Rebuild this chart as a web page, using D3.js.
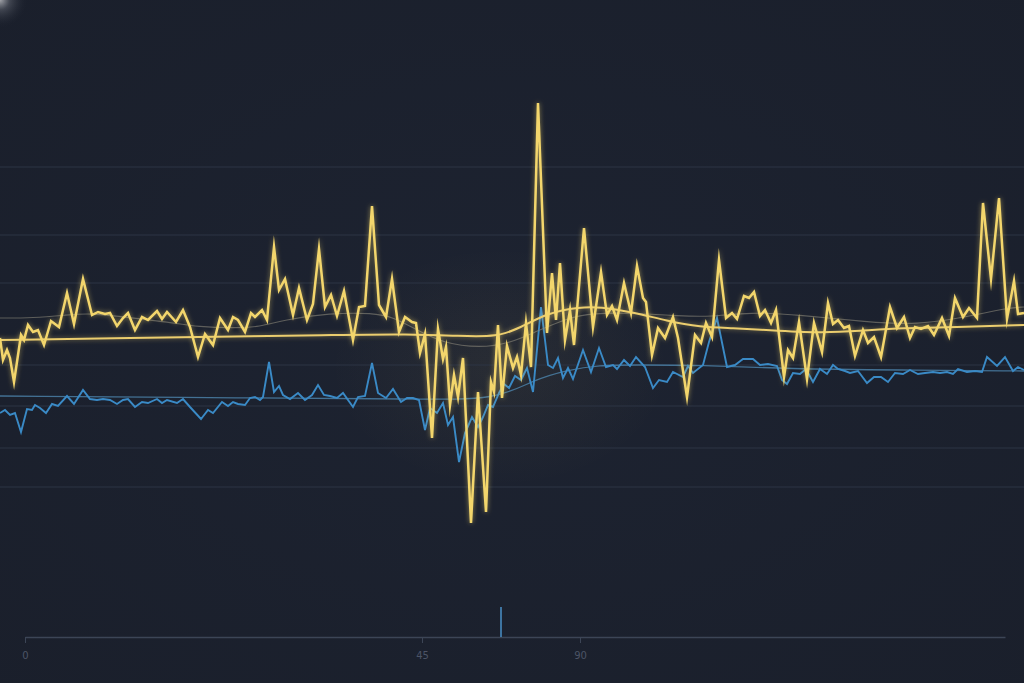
<!DOCTYPE html>
<html><head><meta charset="utf-8">
<script src="https://cdn.jsdelivr.net/npm/d3@7"></script>
<style>html,body{margin:0;padding:0;background:#1b212e;overflow:hidden}svg{display:block}</style>
</head><body>
<script>
// ---- data ----
const yellowT = [0,0.3,0.7,1.0,1.4,2.1,2.4,2.8,3.3,3.8,4.4,5.1,5.9,6.7,7.4,8.3,9.2,9.8,10.5,11.0,11.7,12.3,12.8,13.5,14.2,14.8,15.7,16.2,16.7,17.6,18.3,19.0,19.8,20.5,21.3,22.0,22.8,23.3,23.8,24.5,25.1,25.5,26.2,26.7,27.4,27.9,28.5,29.3,29.9,30.7,31.3,31.9,32.5,33.1,33.7,34.4,35.3,35.9,36.5,37.2,37.9,38.6,39.2,39.9,40.5,41.2,41.6,42.0,42.5,43.2,43.8,44.3,44.6,45.0,45.4,45.8,46.3,47.1,47.8,48.6,49.1,49.4,49.8,50.2,50.7,51.3,51.7,52.1,52.6,53.1,53.8,54.7,55.2,55.6,56.0,56.5,57.0,57.4,58.4,59.3,60.1,60.7,61.2,61.7,62.4,63.1,63.7,64.3,64.6,65.2,65.8,66.5,67.3,67.8,68.7,69.5,70.1,70.6,71.2,71.9,72.6,73.2,73.7,74.4,74.9,75.4,76.0,76.5,77.1,77.6,78.4,78.8,79.3,79.9,80.7,81.4,82.2,82.8,83.3,83.8,84.4,84.9,85.5,86.3,86.8,87.4,88.1,89.0,89.7,90.4,91.0,91.5,92.1,92.8,93.4,94.2,94.9,95.5,96.3,96.9,97.7,98.3,99.1,99.9,100.7,101.4,101.8,102.4];
const yellowV = [29.9,27.7,28.7,27.9,25.5,30.2,29.7,31.2,30.5,30.7,29.2,31.6,31.0,34.4,31.3,35.8,32.2,32.5,32.3,32.4,31.1,31.9,32.4,30.7,32.0,31.7,32.6,31.8,32.5,31.5,32.7,31.0,28.0,30.3,29.2,31.9,30.7,32.0,31.7,30.5,32.4,32.0,32.7,31.7,39.0,34.7,35.8,32.2,34.9,31.7,33.3,38.8,33.0,34.2,32.1,34.6,29.7,33.0,33.1,43.1,33.2,32.0,35.8,30.5,32.0,31.5,31.4,28.4,30.3,19.9,30.8,27.8,29.0,23.2,26.2,24.0,27.9,11.4,24.5,12.5,25.5,24.5,31.2,23.9,29.1,26.9,28.0,26.2,31.4,27.0,53.4,30.4,36.4,31.7,37.4,29.7,32.7,29.2,40.9,31.0,36.5,32.2,33.1,31.7,35.4,32.4,37.1,33.9,33.5,28.2,30.9,29.9,32.0,29.9,24.0,30.2,29.4,31.4,30.0,37.7,31.9,32.4,31.8,34.1,33.9,34.5,32.1,32.7,31.4,32.7,26.0,28.7,27.9,31.5,25.8,31.4,28.5,33.4,31.3,31.7,30.9,31.1,28.1,30.7,29.4,30.0,28.0,33.0,30.9,32.0,29.9,31.0,30.8,31.1,30.2,31.9,30.1,33.9,32.0,32.9,31.9,43.4,35.8,43.9,31.8,35.6,32.3,32.4];

const yellowAvgT = [0,13.0,26.0,33.0,41.0,46.0,49.7,52.0,54.7,58.0,60.0,63.3,66.7,70.0,73.3,76.7,82.0,86.0,90.0,96.7,102.4];
const yellowAvgV = [29.7,29.9,30.1,30.2,30.3,30.1,30.0,30.9,32.4,33.0,33.0,32.5,31.6,31.0,30.9,30.7,30.4,30.6,30.9,31.0,31.2];

const greyAvgT = [0,3.3,6.7,9.0,13.3,16.7,20.0,23.3,26.0,28.3,33.0,37.3,39.3,41.7,44.3,48.0,51.0,53.3,56.7,59.3,63.3,68.0,71.0,75.0,80.0,86.7,91.7,96.7,100.7,102.4];
const greyAvgV = [31.9,31.9,32.2,32.4,31.9,31.5,31.0,30.9,31.0,31.7,32.4,32.4,32.0,30.7,29.4,28.9,29.4,30.4,31.9,32.4,32.4,32.1,32.0,32.5,32.2,31.5,31.2,32.0,32.9,33.0];

const blueT = [0,0.5,1.0,1.5,2.1,2.7,3.2,3.5,4.0,4.6,5.2,5.8,6.7,7.4,8.3,9.0,9.7,10.3,11.0,11.7,12.3,12.8,13.5,14.2,14.8,15.7,16.2,16.7,17.7,18.3,19.0,20.1,20.8,21.3,22.2,22.8,23.3,23.8,24.5,25.0,25.5,26.0,26.3,26.9,27.4,27.9,28.3,29.0,29.8,30.5,31.2,31.8,32.4,33.0,33.7,34.3,35.3,35.8,36.5,37.2,37.8,38.6,39.3,40.1,40.7,41.3,41.9,42.5,43.0,43.7,44.3,44.8,45.3,45.9,46.5,47.2,47.8,48.3,48.8,49.3,49.9,50.4,50.9,51.5,52.1,52.7,53.3,54.1,54.8,55.3,55.8,56.3,56.8,57.3,58.3,59.1,59.9,60.6,61.3,61.7,62.4,63.0,63.6,64.5,65.3,65.9,66.7,67.3,68.3,68.8,69.3,70.3,70.9,71.7,72.7,73.5,74.3,75.3,76.0,76.8,77.7,78.2,78.7,79.3,80.0,80.6,81.3,82.0,82.7,83.3,83.8,84.5,85.0,85.8,86.7,87.4,88.1,88.8,89.5,90.3,91.0,91.8,92.5,93.3,94.0,94.7,95.3,95.8,96.7,97.5,98.2,98.7,99.7,100.5,101.3,101.8,102.4];
const blueV = [22.4,22.7,22.2,22.4,20.5,22.8,22.7,23.2,22.9,22.4,23.3,23.1,24.1,23.3,24.7,23.8,23.7,23.8,23.7,23.3,23.7,23.8,23.0,23.5,23.4,23.8,23.4,23.7,23.4,23.8,23.0,21.8,22.7,22.4,23.5,23.1,23.5,23.3,23.2,23.9,24.0,23.7,24.0,27.5,24.5,25.1,24.2,23.8,24.4,23.7,24.2,25.2,24.2,24.1,23.9,24.4,23.0,24.0,24.1,27.4,24.4,23.9,24.8,23.5,23.9,23.9,23.7,20.7,22.9,22.4,23.4,21.2,22.0,17.5,20.4,22.0,21.0,22.0,23.2,23.0,24.4,25.3,24.9,26.1,25.7,26.9,24.5,33.0,27.2,26.9,27.9,25.9,26.9,25.8,28.7,26.5,28.9,27.0,27.2,26.8,27.7,27.1,28.0,27.0,24.9,25.7,25.5,26.5,26.0,27.1,26.4,27.2,29.5,31.9,27.0,27.2,27.8,27.8,27.2,27.3,27.1,25.7,25.3,26.4,26.3,26.8,25.5,26.8,26.3,27.2,26.8,26.6,26.4,26.6,25.4,26.0,26.0,25.5,26.4,26.3,26.7,26.3,26.4,26.5,26.4,26.5,26.3,26.8,26.5,26.6,26.5,28.0,27.1,28.0,26.6,27.0,26.7];

const blueAvgT = [0,25.0,41.7,49.7,53.3,56.7,60.0,63.3,70.0,79.0,90.0,102.4];
const blueAvgV = [24.1,23.9,23.8,23.7,25.7,26.7,27.2,27.2,27.2,26.8,26.7,26.6];

const gridValues = [47.0,40.2,35.4,27.2,23.1,18.9,15.0];
const axisTicks = [0,45,90];
const axisTickLabels = ["0","45","90"];
const markerValue = 67.5;

// ---- drawing ----
const W = 1024, H = 683;
const svg = d3.select("body").append("svg").attr("width", W).attr("height", H);
const defs = svg.append("defs");

const x = d3.scaleLinear().domain([0, 102.4]).range([0, W]);
const y = d3.scaleLinear().domain([0, 60]).range([637, 37]);
const xAxisScale = d3.scaleLinear().domain([0, 45, 90, 145]).range([25, 422, 580, 1005]);

// background
const bg = defs.append("radialGradient").attr("id","bg").attr("cx","50%").attr("cy","50%").attr("r","75%");
bg.append("stop").attr("offset","0%").attr("stop-color","#1d2331");
bg.append("stop").attr("offset","100%").attr("stop-color","#1a1f2b");
svg.append("rect").attr("width",W).attr("height",H).attr("fill","url(#bg)");

// corner light
const cg = defs.append("radialGradient").attr("id","corner");
cg.append("stop").attr("offset","0%").attr("stop-color","#ffffff").attr("stop-opacity",0.6);
cg.append("stop").attr("offset","35%").attr("stop-color","#c8ccd4").attr("stop-opacity",0.22);
cg.append("stop").attr("offset","100%").attr("stop-color","#1d2331").attr("stop-opacity",0);
svg.append("circle").attr("cx",0).attr("cy",0).attr("r",28).attr("fill","url(#corner)");

// centre haze
const hz = defs.append("radialGradient").attr("id","haze");
hz.append("stop").attr("offset","0%").attr("stop-color","#e8c86a").attr("stop-opacity",0.06);
hz.append("stop").attr("offset","100%").attr("stop-color","#e8c86a").attr("stop-opacity",0);
svg.append("ellipse").attr("cx",x(50)).attr("cy",y(27)).attr("rx",170).attr("ry",120).attr("fill","url(#haze)");

// gridlines
svg.append("g").selectAll("line").data(gridValues).join("line")
  .attr("x1",0).attr("x2",W).attr("y1",d=>y(d)).attr("y2",d=>y(d))
  .attr("stroke","#2c3445").attr("stroke-width",1);

// glow filter (subtle)
const f = defs.append("filter").attr("id","glow").attr("x","-10%").attr("y","-20%").attr("width","120%").attr("height","140%");
f.append("feGaussianBlur").attr("in","SourceGraphic").attr("stdDeviation",2.5).attr("result","b");
f.append("feComponentTransfer").attr("in","b").attr("result","b2")
  .append("feFuncA").attr("type","linear").attr("slope",0.55);
const fm = f.append("feMerge");
fm.append("feMergeNode").attr("in","b2");
fm.append("feMergeNode").attr("in","SourceGraphic");

const jag = d3.line().x(d=>x(d[0])).y(d=>y(d[1]));
const smooth = d3.line().x(d=>x(d[0])).y(d=>y(d[1])).curve(d3.curveBasis);
const zip = (a,b)=>a.map((t,i)=>[t,b[i]]);

// blue series
svg.append("path").datum(zip(blueAvgT,blueAvgV)).attr("d",smooth)
  .attr("fill","none").attr("stroke","#4a7fa6").attr("stroke-width",1.3).attr("opacity",0.85);
svg.append("path").datum(zip(blueT,blueV)).attr("d",jag)
  .attr("fill","none").attr("stroke","#3a8ac6").attr("stroke-width",1.9).attr("stroke-linejoin","miter");

// grey average
svg.append("path").datum(zip(greyAvgT,greyAvgV)).attr("d",smooth)
  .attr("fill","none").attr("stroke","#8a877a").attr("stroke-width",1.1).attr("opacity",0.6);

// yellow average
svg.append("path").datum(zip(yellowAvgT,yellowAvgV)).attr("d",smooth)
  .attr("fill","none").attr("stroke","#ebcd6e").attr("stroke-width",2).attr("filter","url(#glow)");

// yellow main
svg.append("path").datum(zip(yellowT,yellowV)).attr("d",jag)
  .attr("fill","none").attr("stroke","#f3d66c").attr("stroke-width",2.5)
  .attr("stroke-linejoin","miter").attr("stroke-miterlimit",10).attr("filter","url(#glow)");

// axis
const ax = svg.append("g").attr("transform",`translate(0,${y(0)})`)
  .call(d3.axisBottom(xAxisScale).tickValues(axisTicks).tickFormat((d,i)=>axisTickLabels[i]).tickSize(6).tickSizeOuter(0).tickPadding(9));
ax.select(".domain").attr("stroke","#3c4556").attr("stroke-width",1.5);
ax.selectAll(".tick line").attr("stroke","#3c4556");
ax.selectAll(".tick text").attr("fill","#4c5466").attr("font-size",10).attr("font-family","DejaVu Sans, sans-serif");

// marker
svg.append("line").attr("x1",xAxisScale(markerValue)).attr("x2",xAxisScale(markerValue))
  .attr("y1",y(3)).attr("y2",y(0)).attr("stroke","#4a90c8").attr("stroke-width",1.5);
</script>
</body></html>
